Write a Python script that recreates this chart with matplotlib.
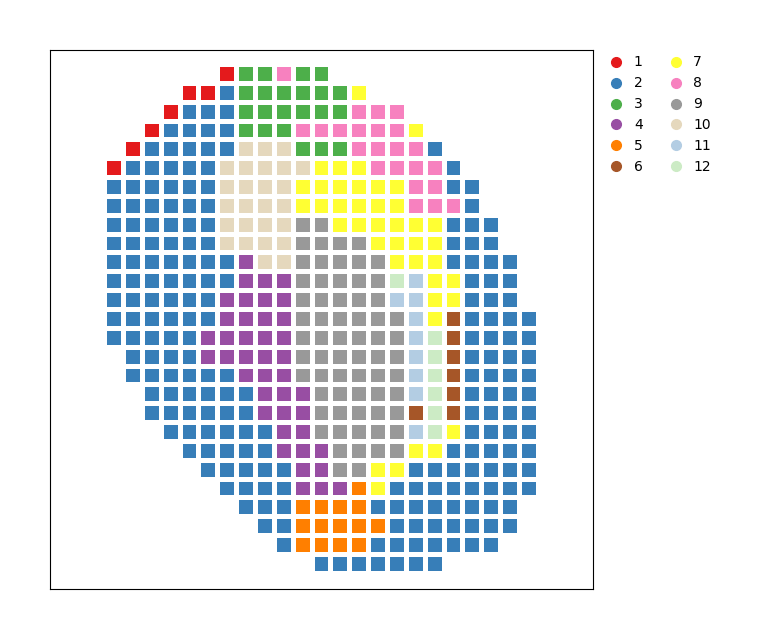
import matplotlib
matplotlib.use("Agg")
import matplotlib.pyplot as plt
from matplotlib.lines import Line2D

# cluster colours (Set1 + a few Pastel1)
colors = {
    1: "#e41a1c", 2: "#377eb8", 3: "#4daf4a", 4: "#984ea3",
    5: "#ff7f00", 6: "#a65628", 7: "#ffff33", 8: "#f781bf",
    9: "#999999", 10: "#e5d8bd", 11: "#b3cde3", 12: "#ccebc5",
}
labels = ["1", "2", "3", "4", "5", "6", "7", "8", "9", "10", "11", "12"]

# first column of each grid row
row_start = [6, 4, 3, 2, 1, 0, 0, 0, 0, 0, 0, 0, 0, 0, 0,
             1, 1, 2, 2, 3, 4, 5, 6, 7, 8, 9, 11]

# cluster of each spot, row by row
row_codes = [
    [1, 3, 3, 8, 3, 3],
    [1, 1, 2, 3, 3, 3, 3, 3, 3, 7],
    [1, 2, 2, 2, 3, 3, 3, 3, 3, 3, 8, 8, 8],
    [1, 2, 2, 2, 2, 3, 3, 3, 8, 8, 8, 8, 8, 8, 7],
    [1, 2, 2, 2, 2, 2, 10, 10, 10, 3, 3, 3, 8, 8, 8, 8, 2],
    [1, 2, 2, 2, 2, 2, 10, 10, 10, 10, 10, 7, 7, 7, 8, 8, 8, 8, 2],
    [2, 2, 2, 2, 2, 2, 10, 10, 10, 10, 7, 7, 7, 7, 7, 7, 8, 8, 2, 2],
    [2, 2, 2, 2, 2, 2, 10, 10, 10, 10, 7, 7, 7, 7, 7, 7, 8, 8, 8, 2],
    [2, 2, 2, 2, 2, 2, 10, 10, 10, 10, 9, 9, 7, 7, 7, 7, 7, 7, 2, 2, 2],
    [2, 2, 2, 2, 2, 2, 10, 10, 10, 10, 9, 9, 9, 9, 7, 7, 7, 7, 2, 2, 2],
    [2, 2, 2, 2, 2, 2, 2, 4, 10, 10, 9, 9, 9, 9, 9, 7, 7, 7, 2, 2, 2, 2],
    [2, 2, 2, 2, 2, 2, 2, 4, 4, 4, 9, 9, 9, 9, 9, 12, 11, 7, 7, 2, 2, 2],
    [2, 2, 2, 2, 2, 2, 4, 4, 4, 4, 9, 9, 9, 9, 9, 11, 11, 7, 7, 2, 2, 2],
    [2, 2, 2, 2, 2, 2, 4, 4, 4, 4, 9, 9, 9, 9, 9, 9, 11, 7, 6, 2, 2, 2, 2],
    [2, 2, 2, 2, 2, 4, 4, 4, 4, 4, 9, 9, 9, 9, 9, 9, 11, 12, 6, 2, 2, 2, 2],
    [2, 2, 2, 2, 4, 4, 4, 4, 4, 9, 9, 9, 9, 9, 9, 11, 12, 6, 2, 2, 2, 2],
    [2, 2, 2, 2, 2, 2, 4, 4, 4, 9, 9, 9, 9, 9, 9, 11, 12, 6, 2, 2, 2, 2],
    [2, 2, 2, 2, 2, 2, 4, 4, 4, 9, 9, 9, 9, 9, 11, 12, 6, 2, 2, 2, 2],
    [2, 2, 2, 2, 2, 2, 4, 4, 4, 9, 9, 9, 9, 9, 6, 12, 6, 2, 2, 2, 2],
    [2, 2, 2, 2, 2, 2, 4, 4, 9, 9, 9, 9, 9, 11, 12, 7, 2, 2, 2, 2],
    [2, 2, 2, 2, 2, 4, 4, 4, 9, 9, 9, 9, 7, 7, 2, 2, 2, 2, 2],
    [2, 2, 2, 2, 2, 4, 4, 9, 9, 7, 7, 2, 2, 2, 2, 2, 2, 2],
    [2, 2, 2, 2, 4, 4, 4, 5, 7, 2, 2, 2, 2, 2, 2, 2, 2],
    [2, 2, 2, 5, 5, 5, 5, 2, 2, 2, 2, 2, 2, 2, 2],
    [2, 2, 5, 5, 5, 5, 5, 2, 2, 2, 2, 2, 2, 2],
    [2, 5, 5, 5, 5, 2, 2, 2, 2, 2, 2, 2],
    [2, 2, 2, 2, 2, 2, 2],
]

xs, ys, cs = [], [], []
for r, (start, codes) in enumerate(zip(row_start, row_codes)):
    for k, c in enumerate(codes):
        xs.append(start + k)
        ys.append(-r)
        cs.append(colors[c])

fig = plt.figure(figsize=(7.68, 6.39), dpi=100)
ax = fig.add_axes([50 / 768, 1 - 589 / 639, 543 / 768, 539 / 639])
ax.scatter(xs, ys, c=cs, marker="s", s=100, linewidths=0)
ax.set_xlim(-3.4, 25.4)
ax.set_ylim(-27.33, 1.27)
ax.set_xticks([])
ax.set_yticks([])

handles = [Line2D([], [], marker="o", linestyle="", color=colors[i + 1],
                  markersize=7) for i in range(12)]
ax.legend(handles, labels, ncol=2, frameon=False, loc="upper left",
          bbox_to_anchor=(0.9945, 1.013), fontsize=10, handletextpad=0.26,
          columnspacing=1.38, labelspacing=0.5)

fig.savefig("out.png", dpi=100)
